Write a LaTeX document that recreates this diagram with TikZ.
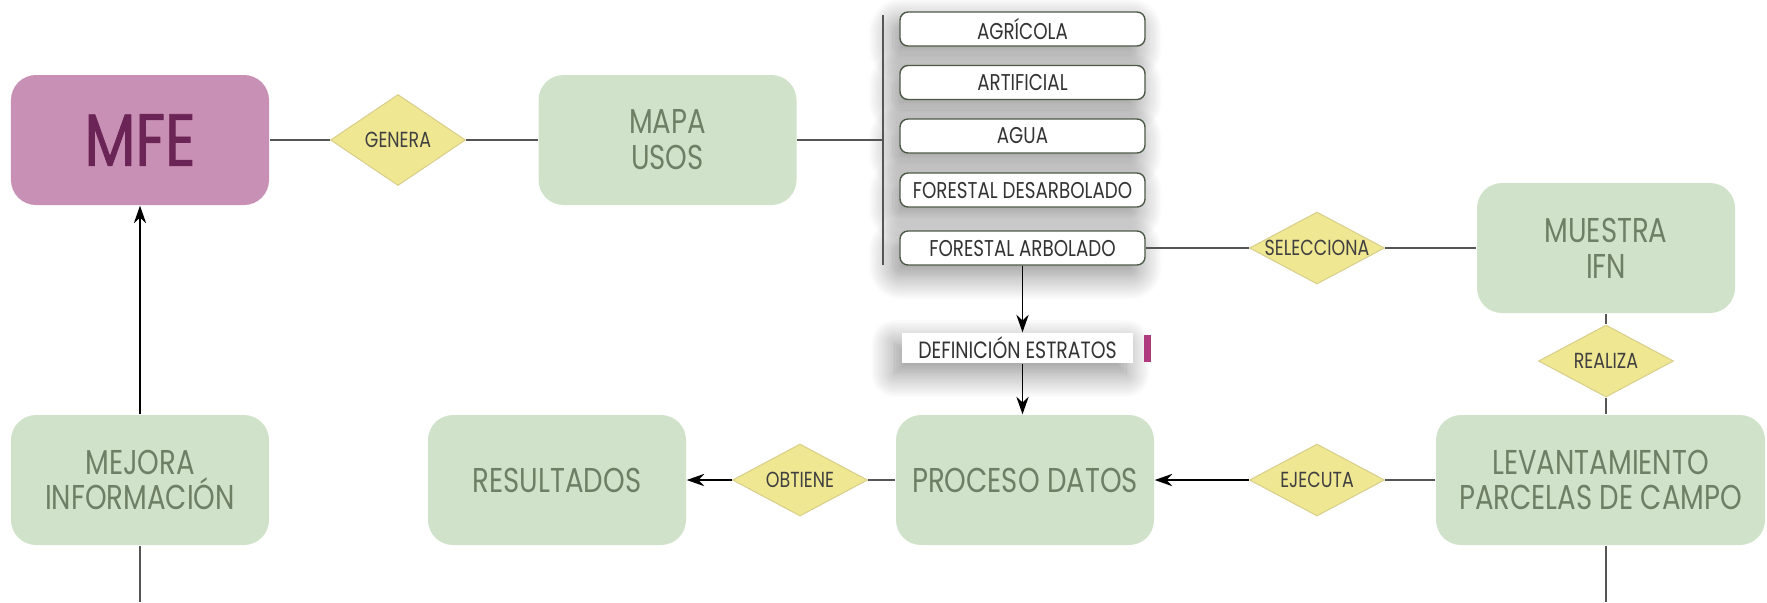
\documentclass[tikz,border=0pt]{standalone}
\usepackage{fontspec}
\setmainfont{Poppins}[FakeStretch=0.80]
\usetikzlibrary{shapes.geometric, arrows.meta, positioning, shadows.blur}
\definecolor{mfepink}{HTML}{C890B4}
\definecolor{mfetext}{HTML}{6B2456}
\definecolor{boxgreen}{HTML}{D1E2CA}
\definecolor{greentext}{HTML}{6E7F66}
\definecolor{romboyellow}{HTML}{F0E792}
\definecolor{romboedge}{HTML}{D9CF8C}
\definecolor{linegray}{HTML}{555555}
\definecolor{barmagenta}{HTML}{B03A7E}

\begin{document}
\begin{tikzpicture}[
  caja/.style={rectangle, rounded corners=0.25cm, fill=boxgreen, text=greentext,
    minimum width=2.58cm, minimum height=1.30cm, align=center,
    font=\fontsize{9.8}{10.2}\selectfont},
  rombo/.style={diamond, fill=romboyellow, draw=romboedge, line width=0.3pt,
    inner sep=0pt, aspect=1.88, minimum width=1.35cm, minimum height=0.72cm,
    text=black!75, font=\fontsize{6.2}{6.5}\selectfont},
  sombra/.style={blur shadow={shadow xshift=-2pt, shadow yshift=-3pt,
      shadow blur radius=7pt, shadow blur steps=20, shadow opacity=45}},
  uso/.style={rectangle, rounded corners=0.08cm, fill=white,
    draw=greentext!70!black, line width=0.4pt, inner sep=0pt,
    minimum width=2.45cm, minimum height=0.34cm, text=black!80,
    font=\fontsize{6.5}{6.5}\selectfont, sombra},
  linea/.style={draw=linegray, line width=0.5pt},
  flecha/.style={draw=black, line width=0.5pt, -{Stealth[length=5pt, width=3.5pt]}}
]
  \useasboundingbox (0,0) rectangle (17.67,-6.02);

  % fila superior
  \node[caja, fill=mfepink, text=mfetext,
    font=\fontsize{21}{22}\selectfont\addfontfeature{FakeBold=1.2}] (mfe) at (1.40,-1.40) {MFE};
  \node[rombo, minimum height=0.91cm] (genera) at (3.98,-1.40) {GENERA};
  \node[caja] (mapa) at (6.675,-1.40) {MAPA\\USOS};
  \coordinate (brmid) at (8.83,-1.40);
  \coordinate (brtop) at (8.83,-0.15);
  \coordinate (brbot) at (8.83,-2.65);

  % usos del suelo
  \node[uso] (agricola) at (10.225,-0.29) {AGRÍCOLA};
  \node[uso] (artificial) at (10.225,-0.825) {ARTIFICIAL};
  \node[uso] (agua) at (10.225,-1.36) {AGUA};
  \node[uso] (desarbolado) at (10.225,-1.90) {FORESTAL DESARBOLADO};
  \node[uso] (arbolado) at (10.225,-2.48) {FORESTAL ARBOLADO};

  % muestra
  \node[rombo] (selecciona) at (13.17,-2.48) {SELECCIONA};
  \node[caja] (muestra) at (16.06,-2.48) {MUESTRA\\IFN};
  \node[rombo] (realiza) at (16.06,-3.61) {REALIZA};

  % estratos
  \node[fill=white, inner sep=0pt, minimum width=2.31cm, minimum height=0.30cm,
    text=black!80, font=\fontsize{6.7}{6.7}\selectfont, sombra] (estratos) at (10.175,-3.48) {DEFINICIÓN ESTRATOS};
  \node[right=0.10cm of estratos, fill=barmagenta, inner sep=0pt,
    minimum width=0.07cm, minimum height=0.27cm] (barra) {};

  % fila inferior
  \node[caja, minimum width=3.29cm] (levantamiento) at (16.005,-4.80) {LEVANTAMIENTO\\PARCELAS DE CAMPO};
  \node[rombo] (ejecuta) at (13.17,-4.80) {EJECUTA};
  \node[caja] (proceso) at (10.25,-4.80) {PROCESO DATOS};
  \node[rombo] (obtiene) at (8.00,-4.80) {OBTIENE};
  \node[caja] (resultados) at (5.57,-4.80) {RESULTADOS};
  \node[caja] (mejora) at (1.40,-4.80) {MEJORA\\INFORMACIÓN};
  \coordinate (finmejora) at (1.40,-6.02);
  \coordinate (finlev) at (16.06,-6.02);

  \draw[linea] (mfe) -- (genera) -- (mapa) -- (brmid);
  \draw[linea] (brtop) -- (brbot);
  \draw[linea] (arbolado) -- (selecciona) -- (muestra);
  \draw[linea] (muestra) -- (realiza) -- (realiza |- levantamiento.north);
  \draw[linea] (levantamiento.south -| realiza) -- (finlev);
  \draw[linea] (mejora) -- (finmejora);
  \draw[flecha] (mejora) -- (mfe);
  \draw[flecha] (arbolado) -- (arbolado |- estratos.north);
  \draw[flecha] (estratos.south -| arbolado) -- (proceso.north -| arbolado);
  \draw[linea] (levantamiento) -- (ejecuta);
  \draw[flecha] (ejecuta) -- (proceso);
  \draw[linea] (proceso) -- (obtiene);
  \draw[flecha] (obtiene) -- (resultados);
\end{tikzpicture}
\end{document}
